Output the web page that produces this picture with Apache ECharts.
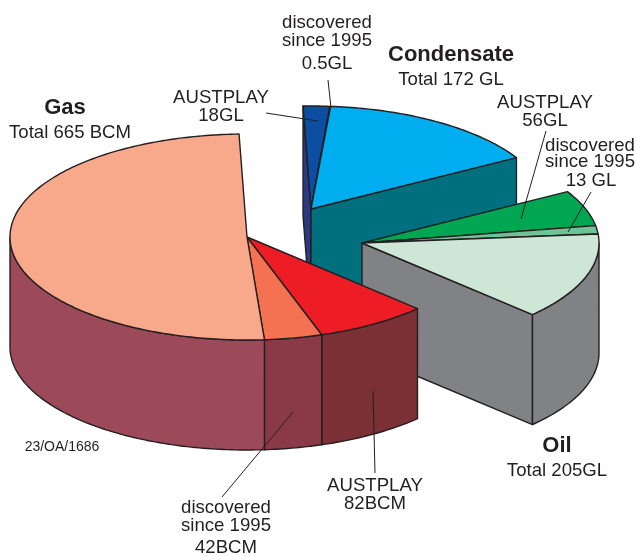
<!DOCTYPE html>
<html>
<head>
<meta charset="utf-8">
<style>html,body{margin:0;padding:0;background:#fff}#c{width:636px;height:556px}</style>
<script src="https://cdn.jsdelivr.net/npm/echarts@6/dist/echarts.min.js"></script>
</head>
<body>
<div id="c"></div>
<script>
// Data (discovered resources by group)
const gasValues = [82, 42, 541];            // AUSTPLAY, discovered since 1995, remainder (BCM)
const condensateValues = [18, 0.5, 153.5];  // AUSTPLAY, discovered since 1995, remainder (GL)
const oilValues = [56, 13, 136];            // AUSTPLAY, discovered since 1995, remainder (GL)
const liquidWeight = 1.07;                  // pie weight of 1 GL relative to 1 BCM

// Styles
const gasTop = ['#EE1C25', '#F47251', '#F8A98B'];
const gasSide = ['#7A3035', '#8A3A46', '#9C4A5A'];
const condTop = ['#0B4EA2', '#0B4EA2', '#00AEEF'];
const condSide = ['#2B3A80', '#2B3A80', '#00707F'];
const oilTop = ['#00A651', '#6DC395', '#CDE6D6'];
const oilSide = ['#808285', '#808285', '#808285'];
const ink = '#231F20';

// Layout of the exploded 3D pie
const rx = 237, ry = 103, depth = 110, startDeg = 44;
const centres = { gas: [247, 237], cond: [311, 209], oil: [362, 243] };

const sum = a => a.reduce((s, v) => s + v, 0);
const degPerUnit = 360 / (sum(gasValues) + liquidWeight * (sum(condensateValues) + sum(oilValues)));

function buildGroup(values, weight, from, c, tops, sides) {
  let a = from;
  const first = from, last = from + sum(values) * weight * degPerUnit;
  return values.map((v, i) => {
    const s = { value: v, a0: a, a1: a + v * weight * degPerUnit, first, last, c, top: tops[i], side: sides[i] };
    a = s.a1;
    return s;
  });
}
const gasS = buildGroup(gasValues, 1, startDeg, centres.gas, gasTop, gasSide);
const condS = buildGroup(condensateValues, liquidWeight, gasS[2].a1, centres.cond, condTop, condSide);
const oilS = buildGroup(oilValues, liquidWeight, condS[2].a1, centres.oil, oilTop, oilSide);
const slices = [...condS, ...oilS, ...gasS];   // painter's order

function arc(c, a0, a1, dy) {
  const pts = [], n = Math.max(1, Math.ceil(Math.abs(a1 - a0)));
  for (let i = 0; i <= n; i++) {
    const t = (a0 + (a1 - a0) * i / n) * Math.PI / 180;
    pts.push([c[0] + rx * Math.cos(t), c[1] + ry * Math.sin(t) + dy]);
  }
  return pts;
}

function renderSlice(params, api) {
  const s = slices[params.dataIndex];
  const map = p => api.coord(p);
  const poly = (pts, fill, w) => ({
    type: 'polygon',
    shape: { points: pts.map(map) },
    style: { fill, stroke: ink, lineWidth: w, lineJoin: 'round' }
  });
  const kids = [];
  const face = ang => {
    const e = arc(s.c, ang, ang, 0)[0];
    kids.push(poly([s.c, e, [e[0], e[1] + depth], [s.c[0], s.c[1] + depth]], s.side, 1.4));
  };
  const rad = d => d * Math.PI / 180;
  if (s.a0 === s.first && Math.cos(rad(s.a0)) < 0) face(s.a0);
  if (Math.abs(s.a1 - s.last) < 1e-6 && Math.cos(rad(s.a1)) > 0) face(s.a1);
  // outer wall: only the part on the near side of the ellipse
  [0, 360].forEach(off => {
    const lo = Math.max(s.a0, off), hi = Math.min(s.a1, off + 180);
    if (hi > lo) {
      const upper = arc(s.c, lo, hi, 0), lower = arc(s.c, hi, lo, depth);
      kids.push(poly(upper.concat(lower), s.side, 1.4));
    }
  });
  kids.push(poly([s.c].concat(arc(s.c, s.a0, s.a1, 0)), s.top, 1.4));
  return { type: 'group', children: kids };
}

const textFont = '"Liberation Sans", Arial, sans-serif';
const labels = [
  ['discovered', 327, 23], ['since 1995', 327, 41], ['0.5GL', 327, 64],
  ['Total ' + sum(condensateValues) + ' GL', 451, 80],
  ['AUSTPLAY', 545, 103], ['56GL', 545, 121],
  ['discovered', 590, 146], ['since 1995', 590, 162], ['13 GL', 591, 181],
  ['AUSTPLAY', 221, 98], ['18GL', 221, 116],
  ['Total ' + sum(gasValues) + ' BCM', 70, 133],
  ['Total ' + sum(oilValues) + 'GL', 557, 471],
  ['AUSTPLAY', 375, 486], ['82BCM', 375, 504],
  ['discovered', 226, 508], ['since 1995', 226, 526], ['42BCM', 226, 548]
];
const titles = [['Condensate', 451, 55], ['Gas', 65, 108], ['Oil', 557, 446]];
const leaders = [
  [266, 113, 318, 121], [328, 80, 331, 108], [546, 131, 521, 219], [591, 192, 568, 232],
  [373, 391, 375, 473], [293, 412, 222, 497]
];

const textEl = (t, x, y, size, weight, color) => ({
  type: 'text', x, y, silent: true, z: 10,
  style: { text: t, fill: color, font: `${weight} ${size}px ${textFont}`, textAlign: 'center', textVerticalAlign: 'middle' }
});

const chart = echarts.init(document.getElementById('c'), null, { renderer: 'canvas' });
chart.setOption({
  animation: false,
  backgroundColor: '#fff',
  grid: { left: 0, right: 0, top: 0, bottom: 0 },
  xAxis: { type: 'value', min: 0, max: 636, show: false },
  yAxis: { type: 'value', min: 0, max: 556, inverse: true, show: false },
  series: [{
    type: 'custom',
    coordinateSystem: 'cartesian2d',
    clip: false,
    silent: true,
    renderItem: renderSlice,
    data: slices.map(s => [s.c[0], s.c[1], s.value])
  }],
  graphic: [
    ...leaders.map(l => ({
      type: 'line', silent: true, z: 9,
      shape: { x1: l[0], y1: l[1], x2: l[2], y2: l[3] },
      style: { stroke: ink, lineWidth: 1 }
    })),
    ...labels.map(l => textEl(l[0], l[1], l[2], 18.6, 'normal', ink)),
    ...titles.map(l => textEl(l[0], l[1], l[2], 22, 'bold', ink)),
    textEl('23/OA/1686', 62, 447, 14, 'normal', ink)
  ]
});
</script>
</body>
</html>
